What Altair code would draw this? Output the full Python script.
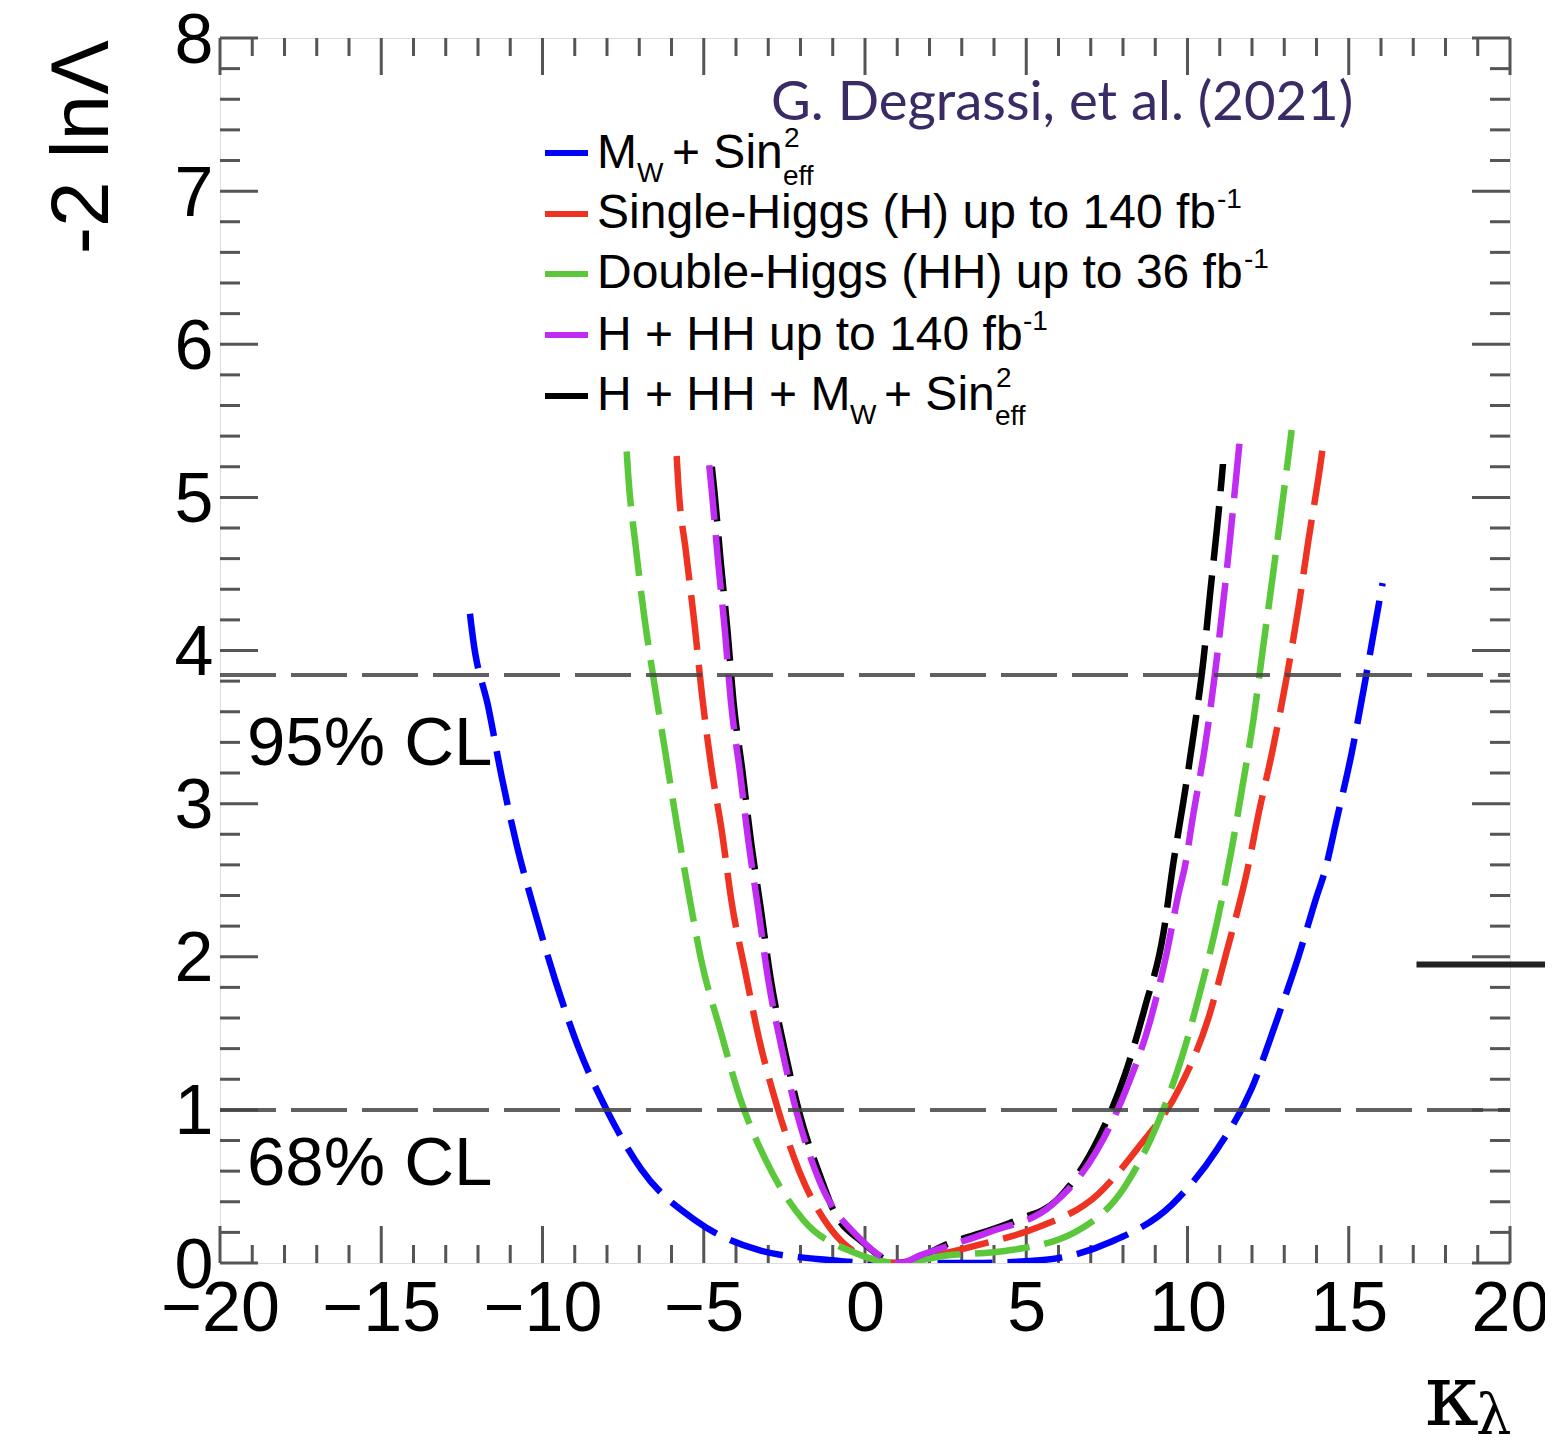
import altair as alt
import pandas as pd

W, H = 1290, 1225
FONT = "Liberation Sans"

# ---- curve data (kappa_lambda, -2 ln Lambda) ----
blue_x = [-12.25, -12.15, -11.68, -11.27, -10.8, -10.23, -9.61, -8.89, -8.01, -6.93, -5.27, -3.31, -1.14, 0.5,
          2.0, 3.35, 5.53, 7.65, 9.51, 10.91, 11.99, 12.76, 13.44, 14.0, 14.26, 14.62, 15.09, 15.5, 15.87, 16.05]
blue_y = [4.24, 4.07, 3.63, 3.18, 2.73, 2.29, 1.85, 1.41, 1.0, 0.61, 0.28, 0.085, 0.02, 0.0,
          0.0, 0.0, 0.02, 0.14, 0.38, 0.74, 1.14, 1.58, 2.0, 2.39, 2.56, 2.89, 3.33, 3.79, 4.23, 4.44]

red_x = [-5.84, -5.79, -5.55, -5.29, -5.06, -4.78, -4.44, -4.13, -3.72, -3.28, -2.72, -2.02, -1.09, 0.0, 1.0,
         2.2, 3.55, 5.32, 7.23, 8.42, 9.77, 10.65, 11.21, 11.88, 12.2, 12.66, 13.07, 13.44, 13.75, 14.09, 14.21]
red_y = [5.27, 5.09, 4.64, 4.18, 3.72, 3.26, 2.82, 2.35, 1.91, 1.46, 1.02, 0.59, 0.23, 0.04, 0.0,
         0.05, 0.12, 0.23, 0.45, 0.74, 1.15, 1.6, 2.03, 2.59, 2.93, 3.37, 3.82, 4.28, 4.72, 5.17, 5.35]

green_x = [-7.39, -7.34, -7.11, -6.85, -6.53, -6.18, -5.84, -5.43, -5.07, -4.5, -3.88, -3.05, -1.91, -0.36, 1.0,
           2.58, 4.39, 6.5, 8.06, 9.05, 9.82, 10.39, 10.91, 11.35, 11.71, 12.06, 12.35, 12.64, 12.92, 13.16, 13.23]
green_y = [5.30, 5.14, 4.68, 4.23, 3.78, 3.32, 2.87, 2.37, 1.97, 1.53, 1.08, 0.66, 0.28, 0.07, 0.0,
           0.05, 0.08, 0.2, 0.5, 0.9, 1.34, 1.77, 2.22, 2.68, 3.12, 3.57, 4.03, 4.48, 4.93, 5.32, 5.44]

purple_x = [-4.83, -4.75, -4.55, -4.34, -4.16, -3.88, -3.62, -3.31, -3.0, -2.58, -2.1, -1.42, -0.16, 1.1,
            1.71, 3.82, 5.8, 7.18, 8.11, 8.84, 9.35, 9.72, 9.92, 10.18, 10.54, 10.84, 11.09, 11.32, 11.53, 11.61]
purple_y = [5.21, 5.04, 4.57, 4.12, 3.67, 3.21, 2.76, 2.31, 1.85, 1.40, 0.97, 0.54, 0.16, 0.0,
            0.05, 0.2, 0.38, 0.73, 1.14, 1.58, 2.02, 2.41, 2.59, 2.93, 3.37, 3.83, 4.28, 4.73, 5.18, 5.35]

black_x = [-4.75, -4.67, -4.47, -4.26, -4.08, -3.8, -3.54, -3.23, -2.92, -2.5, -2.02, -1.34, -0.99, -0.1, 1.0,
           2.64, 4.7, 5.94, 7.23, 8.06, 8.68, 9.25, 9.56, 9.87, 10.2, 10.49, 10.7, 10.93, 11.08, 11.1]
black_y = [5.2, 5.04, 4.57, 4.12, 3.67, 3.21, 2.76, 2.31, 1.85, 1.40, 0.97, 0.54, 0.35, 0.14, 0.0,
           0.13, 0.28, 0.41, 0.81, 1.23, 1.67, 2.15, 2.61, 3.01, 3.47, 3.93, 4.37, 4.83, 5.17, 5.22]

cl_levels = [3.84, 1.0]
cl_labels = ["95% CL", "68% CL"]

x_major = [-20, -15, -10, -5, 0, 5, 10, 15, 20]
x_minor = [v for v in range(-20, 21) if v % 5 != 0]
y_major = [0, 1, 2, 3, 4, 5, 6, 7, 8]
y_minor = [round(i * 0.2, 1) for i in range(41) if i % 5 != 0]

artifact_y = [1.95]
artifact_x = [17.1]

legend_labels = ["Single-Higgs (H) up to 140 fb", "Double-Higgs (HH) up to 36 fb", "H + HH up to 140 fb"]
colors = {"blue": "#0000ff", "red": "#ee3322", "green": "#5ac83a", "purple": "#c02cf2", "black": "#000000"}

xs = alt.Scale(domain=[-20, 20], nice=False, zero=False)
ys = alt.Scale(domain=[0, 8], nice=False, zero=False)
x_axis = alt.Axis(values=x_major, title=None, labelFlush=False, labelOverlap=False, labelBound=False,
                  labelPadding=12, grid=False, ticks=False, domain=False, labelFontSize=70,
                  labelFont=FONT, labelColor="#000")
y_axis = alt.Axis(values=y_major, title=None, labelFlush=False, labelOverlap=False, labelBound=False,
                  labelPadding=7, labelOffset=3, grid=False, ticks=False, domain=False, labelFontSize=70,
                  labelFont=FONT, labelColor="#000")

one = pd.DataFrame({"_": [0]})


def curve(cx, cy, color):
    df = pd.DataFrame({"k": cx, "v": cy})
    return alt.Chart(df).mark_line(color=color, strokeWidth=6.5, strokeDash=[55, 15],
                                   interpolate="monotone", clip=True).encode(
        x=alt.X("k:Q", scale=xs, axis=x_axis),
        y=alt.Y("v:Q", scale=ys, axis=y_axis))


def txt(s, x, y, size, font=FONT, color="#000", **kw):
    return alt.Chart(one).mark_text(text=s, fontSize=size, font=font, color=color,
                                    align=kw.pop("align", "left"), baseline="alphabetic", **kw).encode(
        x=alt.value(x), y=alt.value(y))


layers = []


# inner ticks (ROOT style, all four sides)
def xticks(vals, length, top):
    df = pd.DataFrame({"t": vals})
    y0, y1 = (0, length) if top else (H, H - length)
    return alt.Chart(df).mark_rule(color="#555", strokeWidth=3).encode(
        x=alt.X("t:Q", scale=xs, axis=x_axis), y=alt.value(y0), y2=alt.value(y1))


def yticks(vals, length, right):
    df = pd.DataFrame({"t": vals})
    x0, x1 = (W, W - length) if right else (0, length)
    return alt.Chart(df).mark_rule(color="#555", strokeWidth=3).encode(
        y=alt.Y("t:Q", scale=ys, axis=y_axis), x=alt.value(x0), x2=alt.value(x1))


for top in (False, True):
    layers.append(xticks(x_major, 37, top))
    layers.append(xticks(x_minor, 18, top))
for right in (False, True):
    layers.append(yticks(y_major, 38, right))
    layers.append(yticks(y_minor, 20, right))

# curves
layers.append(curve(black_x, black_y, colors["black"]))
layers.append(curve(blue_x, blue_y, colors["blue"]))
layers.append(curve(red_x, red_y, colors["red"]))
layers.append(curve(green_x, green_y, colors["green"]))
layers.append(curve(purple_x, purple_y, colors["purple"]))

# CL lines
cl_df = pd.DataFrame({"lvl": cl_levels})
layers.append(alt.Chart(cl_df).mark_rule(color="#444", strokeWidth=4, strokeDash=[56, 15], opacity=0.85).encode(
    y=alt.Y("lvl:Q", scale=ys, axis=y_axis), x=alt.value(0), x2=alt.value(W)))

# stray line at right edge
art_df = pd.DataFrame({"a": artifact_x, "b": artifact_y})
layers.append(alt.Chart(art_df).mark_rule(color="#222", strokeWidth=6).encode(
    x=alt.X("a:Q", scale=xs, axis=x_axis), x2=alt.value(W + 45), y=alt.Y("b:Q", scale=ys, axis=y_axis)))

# CL labels
layers.append(txt(cl_labels[0], 27, 727, 69))
layers.append(txt(cl_labels[1], 27, 1147, 69))

# axis titles
layers.append(txt("-2 lnΛ", -112, 2, 82, angle=270, align="right"))
layers.append(txt("κ", 1205, 1387, 86, font="DejaVu Serif"))
layers.append(txt("λ", 1256, 1396, 56, font="DejaVu Serif"))

# attribution
layers.append(txt("G. Degrassi, et al. (2021)", 551, 82, 54.5, font="Lato", color="#3a2a66"))

# legend
LF, SF = 48, 28
leg_y = [115, 176, 236, 297, 358]
leg_c = [colors["blue"], colors["red"], colors["green"], colors["purple"], colors["black"]]
for yy, cc in zip(leg_y, leg_c):
    layers.append(alt.Chart(one).mark_rule(color=cc, strokeWidth=6).encode(
        x=alt.value(325), x2=alt.value(368), y=alt.value(yy)))
# row 1
layers.append(txt("M", 377, 130, LF))
layers.append(txt("W", 417, 144, SF))
layers.append(txt("+ Sin", 452, 130, LF))
layers.append(txt("2", 564, 109, SF))
layers.append(txt("eff", 563, 147, SF))
# rows 2-4
layers.append(txt(legend_labels[0], 377, 190, LF))
layers.append(txt("-1", 997, 170, SF))
layers.append(txt(legend_labels[1], 377, 250, LF))
layers.append(txt("-1", 1024, 230, SF))
layers.append(txt(legend_labels[2], 377, 312, LF))
layers.append(txt("-1", 803, 292, SF))
# row 5
layers.append(txt("H + HH + M", 377, 372, LF))
layers.append(txt("W", 630, 386, SF))
layers.append(txt("+ Sin", 664, 372, LF))
layers.append(txt("2", 776, 349, SF))
layers.append(txt("eff", 775, 387, SF))

chart = alt.layer(*layers).properties(
    width=W, height=H,
    autosize=alt.AutoSizeParams(type="none"),
    padding={"left": 212, "top": 30, "right": 35, "bottom": 174},
).configure_view(stroke="#222", strokeWidth=4).configure(background="white")

chart.save("out.html", embed_options={"renderer": "svg", "actions": False})
